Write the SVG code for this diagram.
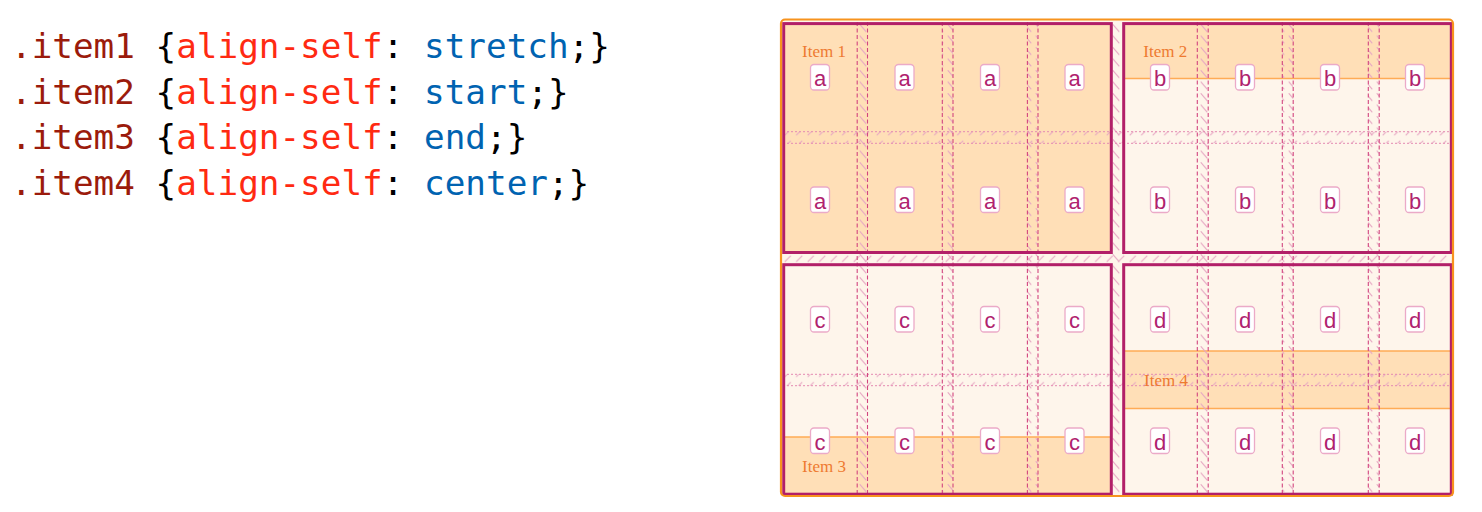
<svg xmlns="http://www.w3.org/2000/svg" width="1482" height="512" viewBox="0 0 1482 512">
<style>
.code{font-family:"DejaVu Sans Mono","Liberation Mono",monospace;font-size:34.3px;fill:#000}
.sel{fill:#9B1B0C}.prop{fill:#FF2A12}.val{fill:#0063B1}
.peach{fill:#FFDFB7}.cream{fill:#FEF5EB}
.edge{stroke:#FFAB55;stroke-width:1.6;fill:none}
.ibox{fill:none;stroke:#B21F68;stroke-width:3}
.cgl{stroke:#D2457F;stroke-width:1.1;stroke-dasharray:4 2.5;fill:none}
.rgl{stroke:#E48AB2;stroke-width:1;stroke-dasharray:2 2;fill:none}
.badge{fill:#FFFFFF;stroke:#EBAAC8;stroke-width:1.3}
.lt{font-family:"Liberation Sans",Arial,sans-serif;font-size:22px;fill:#B0226E;text-anchor:middle}
.lbl{font-family:"Liberation Serif","Times New Roman",serif;font-size:17px;fill:#EE7A30}
.hatch{stroke:#E6A6C2;stroke-width:1.1;fill:none;stroke-linecap:round}
</style>
<defs>
<pattern id="hc" patternUnits="userSpaceOnUse" width="11" height="11.5">
<path class="hatch" d="M2,1.5 L8,8.5"/>
</pattern>
<pattern id="hr" patternUnits="userSpaceOnUse" width="11.5" height="11.5">
<path class="hatch" d="M3,8.5 L8.5,3"/>
</pattern>
</defs>

<g id="code">
<text class="code" x="11" y="58" xml:space="preserve"><tspan class="sel">.item1</tspan> {<tspan class="prop">align-self</tspan>: <tspan class="val">stretch</tspan>;}</text>
<text class="code" x="11" y="104" xml:space="preserve"><tspan class="sel">.item2</tspan> {<tspan class="prop">align-self</tspan>: <tspan class="val">start</tspan>;}</text>
<text class="code" x="11" y="149" xml:space="preserve"><tspan class="sel">.item3</tspan> {<tspan class="prop">align-self</tspan>: <tspan class="val">end</tspan>;}</text>
<text class="code" x="11" y="195" xml:space="preserve"><tspan class="sel">.item4</tspan> {<tspan class="prop">align-self</tspan>: <tspan class="val">center</tspan>;}</text>
</g>

<g id="container">
<rect class="cream" x="781" y="19.5" width="672" height="476.5" rx="4"/>
</g>

<g id="item-fills">
<rect class="peach" x="783" y="23" width="329" height="230"/>
<rect class="peach" x="1123" y="23" width="329" height="55.5"/>
<line class="edge" x1="1123" y1="78.5" x2="1452" y2="78.5"/>
<rect class="peach" x="783" y="437" width="329" height="57"/>
<line class="edge" x1="783" y1="437" x2="1112" y2="437"/>
<rect class="peach" x="1123" y="351" width="329" height="57.5"/>
<line class="edge" x1="1123" y1="351" x2="1452" y2="351"/>
<line class="edge" x1="1123" y1="408.5" x2="1452" y2="408.5"/>
</g>

<g id="gaps">
<rect x="857.2" y="22" width="10.3" height="473" fill="url(#hc)"/>
<rect x="942.3" y="22" width="10.7" height="473" fill="url(#hc)"/>
<rect x="1027.4" y="22" width="10.6" height="473" fill="url(#hc)"/>
<rect x="1112" y="22" width="11.5" height="473" fill="url(#hc)"/>
<rect x="1197.3" y="22" width="10.9" height="473" fill="url(#hc)"/>
<rect x="1282.3" y="22" width="10.9" height="473" fill="url(#hc)"/>
<rect x="1368.3" y="22" width="10.9" height="473" fill="url(#hc)"/>
<rect x="783" y="131.7" width="669" height="11.6" fill="url(#hr)"/>
<rect x="783" y="253" width="669" height="11.5" fill="url(#hr)"/>
<rect x="783" y="374.3" width="669" height="11.4" fill="url(#hr)"/>
<path class="rgl" d="M783,131.7H1452M783,143.3H1452M783,374.3H1452M783,385.7H1452"/>
<path class="cgl" d="M857.2,22V495M867.5,22V495M942.3,22V495M953,22V495M1027.4,22V495M1038,22V495M1197.3,22V495M1208.2,22V495M1282.3,22V495M1293.2,22V495M1368.3,22V495M1379.2,22V495"/>
</g>

<g id="item1">
<rect class="ibox" x="783.7" y="23.6" width="327.6" height="228.9"/>
<text class="lbl" x="802" y="57.3">Item 1</text>
<rect class="badge" x="810.5" y="64.5" width="19" height="25.5" rx="3.5"/><text class="lt" x="820" y="86">a</text>
<rect class="badge" x="895" y="64.5" width="19" height="25.5" rx="3.5"/><text class="lt" x="904.5" y="86">a</text>
<rect class="badge" x="980.5" y="64.5" width="19" height="25.5" rx="3.5"/><text class="lt" x="990" y="86">a</text>
<rect class="badge" x="1065" y="64.5" width="19" height="25.5" rx="3.5"/><text class="lt" x="1074.5" y="86">a</text>
<rect class="badge" x="810.5" y="187" width="19" height="25.5" rx="3.5"/><text class="lt" x="820" y="208.5">a</text>
<rect class="badge" x="895" y="187" width="19" height="25.5" rx="3.5"/><text class="lt" x="904.5" y="208.5">a</text>
<rect class="badge" x="980.5" y="187" width="19" height="25.5" rx="3.5"/><text class="lt" x="990" y="208.5">a</text>
<rect class="badge" x="1065" y="187" width="19" height="25.5" rx="3.5"/><text class="lt" x="1074.5" y="208.5">a</text>
</g>

<g id="item2">
<rect class="ibox" x="1123.7" y="23.6" width="327.6" height="228.9"/>
<text class="lbl" x="1143.3" y="57.3">Item 2</text>
<rect class="badge" x="1150.5" y="64.5" width="19" height="25.5" rx="3.5"/><text class="lt" x="1160" y="86">b</text>
<rect class="badge" x="1235.5" y="64.5" width="19" height="25.5" rx="3.5"/><text class="lt" x="1245" y="86">b</text>
<rect class="badge" x="1320.5" y="64.5" width="19" height="25.5" rx="3.5"/><text class="lt" x="1330" y="86">b</text>
<rect class="badge" x="1405.5" y="64.5" width="19" height="25.5" rx="3.5"/><text class="lt" x="1415" y="86">b</text>
<rect class="badge" x="1150.5" y="187" width="19" height="25.5" rx="3.5"/><text class="lt" x="1160" y="208.5">b</text>
<rect class="badge" x="1235.5" y="187" width="19" height="25.5" rx="3.5"/><text class="lt" x="1245" y="208.5">b</text>
<rect class="badge" x="1320.5" y="187" width="19" height="25.5" rx="3.5"/><text class="lt" x="1330" y="208.5">b</text>
<rect class="badge" x="1405.5" y="187" width="19" height="25.5" rx="3.5"/><text class="lt" x="1415" y="208.5">b</text>
</g>

<g id="item3">
<rect class="ibox" x="783.7" y="264.7" width="327.6" height="229.5"/>
<text class="lbl" x="802" y="471.7">Item 3</text>
<rect class="badge" x="810.5" y="306.5" width="19" height="25.5" rx="3.5"/><text class="lt" x="820" y="328">c</text>
<rect class="badge" x="895" y="306.5" width="19" height="25.5" rx="3.5"/><text class="lt" x="904.5" y="328">c</text>
<rect class="badge" x="980.5" y="306.5" width="19" height="25.5" rx="3.5"/><text class="lt" x="990" y="328">c</text>
<rect class="badge" x="1065" y="306.5" width="19" height="25.5" rx="3.5"/><text class="lt" x="1074.5" y="328">c</text>
<rect class="badge" x="810.5" y="428" width="19" height="25.5" rx="3.5"/><text class="lt" x="820" y="449.5">c</text>
<rect class="badge" x="895" y="428" width="19" height="25.5" rx="3.5"/><text class="lt" x="904.5" y="449.5">c</text>
<rect class="badge" x="980.5" y="428" width="19" height="25.5" rx="3.5"/><text class="lt" x="990" y="449.5">c</text>
<rect class="badge" x="1065" y="428" width="19" height="25.5" rx="3.5"/><text class="lt" x="1074.5" y="449.5">c</text>
</g>

<g id="item4">
<rect class="ibox" x="1123.7" y="264.7" width="327.6" height="229.5"/>
<text class="lbl" x="1144" y="385.7">Item 4</text>
<rect class="badge" x="1150.5" y="306.5" width="19" height="25.5" rx="3.5"/><text class="lt" x="1160" y="328">d</text>
<rect class="badge" x="1235.5" y="306.5" width="19" height="25.5" rx="3.5"/><text class="lt" x="1245" y="328">d</text>
<rect class="badge" x="1320.5" y="306.5" width="19" height="25.5" rx="3.5"/><text class="lt" x="1330" y="328">d</text>
<rect class="badge" x="1405.5" y="306.5" width="19" height="25.5" rx="3.5"/><text class="lt" x="1415" y="328">d</text>
<rect class="badge" x="1150.5" y="428" width="19" height="25.5" rx="3.5"/><text class="lt" x="1160" y="449.5">d</text>
<rect class="badge" x="1235.5" y="428" width="19" height="25.5" rx="3.5"/><text class="lt" x="1245" y="449.5">d</text>
<rect class="badge" x="1320.5" y="428" width="19" height="25.5" rx="3.5"/><text class="lt" x="1330" y="449.5">d</text>
<rect class="badge" x="1405.5" y="428" width="19" height="25.5" rx="3.5"/><text class="lt" x="1415" y="449.5">d</text>
</g>

<g id="container-border">
<rect x="781" y="19.5" width="672" height="476.5" rx="4" fill="none" stroke="#F7931E" stroke-width="2.2"/>
</g>

<g id="connectors"/>
</svg>
